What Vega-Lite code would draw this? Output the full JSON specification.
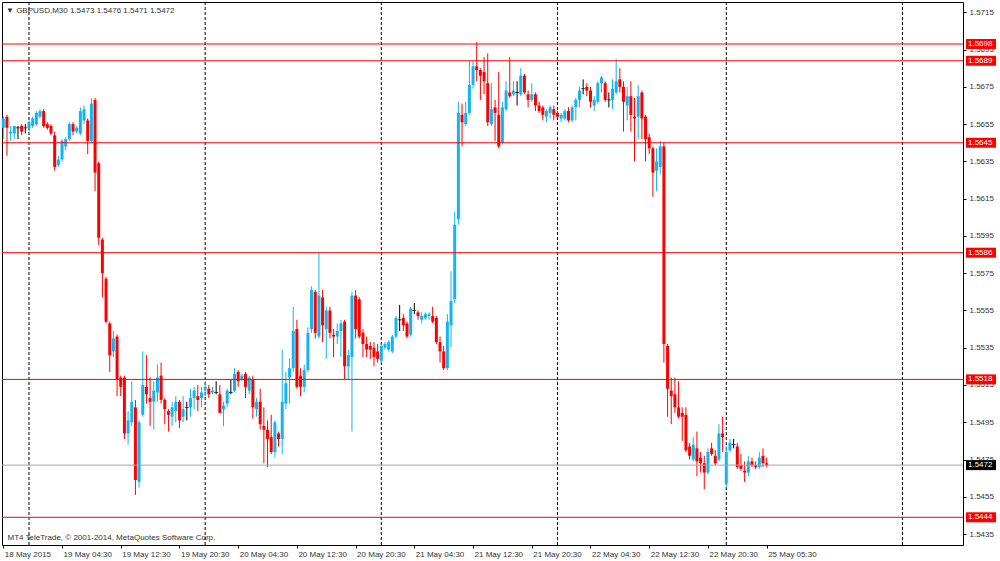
{
  "$schema": "https://vega.github.io/schema/vega-lite/v6.json",
  "width": 961,
  "height": 543,
  "autosize": {"type": "none"},
  "padding": {"left": 2, "top": 2, "right": 37, "bottom": 16},
  "background": "#ffffff",
  "config": {
    "view": {"stroke": "#000000", "strokeWidth": 1},
    "font": "Liberation Sans",
    "axis": {"labelOverlap": false, "labelBound": false}
  },
  "title": {
    "text": "▼ GBPUSD,M30  1.5473 1.5476 1.5471 1.5472",
    "anchor": "start",
    "frame": "group",
    "offset": -13,
    "dx": 4,
    "fontSize": 8,
    "fontWeight": "normal",
    "font": "Liberation Sans",
    "color": "#333333"
  },
  "datasets": {
    "seps": [{"i": 7}, {"i": 55}, {"i": 103}, {"i": 151}, {"i": 197}, {"i": 245}],
    "levels": [
      {"p": 1.5698, "k": "level"},
      {"p": 1.5689, "k": "level"},
      {"p": 1.5645, "k": "level"},
      {"p": 1.5586, "k": "level"},
      {"p": 1.5518, "k": "level"},
      {"p": 1.5444, "k": "level"},
      {"p": 1.5472, "k": "bid"}
    ],
    "bars": [
      {"i":0,"o":1.5653,"h":1.5659,"l":1.5647,"c":1.5658},
      {"i":1,"o":1.5659,"h":1.5660,"l":1.5638,"c":1.5653},
      {"i":2,"o":1.5650,"h":1.5654,"l":1.5646,"c":1.5651},
      {"i":3,"o":1.5650,"h":1.5654,"l":1.5647,"c":1.5654},
      {"i":4,"o":1.5653,"h":1.5654,"l":1.5647,"c":1.5653},
      {"i":5,"o":1.5654,"h":1.5655,"l":1.5649,"c":1.5651},
      {"i":6,"o":1.5653,"h":1.5655,"l":1.5650,"c":1.5653},
      {"i":7,"o":1.5653,"h":1.5657,"l":1.5651,"c":1.5656},
      {"i":8,"o":1.5654,"h":1.5659,"l":1.5653,"c":1.5658},
      {"i":9,"o":1.5655,"h":1.5662,"l":1.5654,"c":1.5661},
      {"i":10,"o":1.5659,"h":1.5663,"l":1.5658,"c":1.5662},
      {"i":11,"o":1.5662,"h":1.5663,"l":1.5653,"c":1.5654},
      {"i":12,"o":1.5655,"h":1.5656,"l":1.5652,"c":1.5653},
      {"i":13,"o":1.5654,"h":1.5655,"l":1.5649,"c":1.5650},
      {"i":14,"o":1.5649,"h":1.5651,"l":1.5630,"c":1.5632},
      {"i":15,"o":1.5633,"h":1.5638,"l":1.5632,"c":1.5636},
      {"i":16,"o":1.5636,"h":1.5647,"l":1.5635,"c":1.5646},
      {"i":17,"o":1.5643,"h":1.5648,"l":1.5641,"c":1.5647},
      {"i":18,"o":1.5647,"h":1.5656,"l":1.5646,"c":1.5655},
      {"i":19,"o":1.5655,"h":1.5656,"l":1.5649,"c":1.5651},
      {"i":20,"o":1.5651,"h":1.5654,"l":1.5650,"c":1.5653},
      {"i":21,"o":1.5650,"h":1.5664,"l":1.5649,"c":1.5662},
      {"i":22,"o":1.5657,"h":1.5665,"l":1.5655,"c":1.5663},
      {"i":23,"o":1.5657,"h":1.5658,"l":1.5639,"c":1.5646},
      {"i":24,"o":1.5646,"h":1.5669,"l":1.5645,"c":1.5666},
      {"i":25,"o":1.5668,"h":1.5669,"l":1.5619,"c":1.5629},
      {"i":26,"o":1.5634,"h":1.5635,"l":1.5590,"c":1.5594},
      {"i":27,"o":1.5593,"h":1.5594,"l":1.5562,"c":1.5575},
      {"i":28,"o":1.5572,"h":1.5573,"l":1.5548,"c":1.5549},
      {"i":29,"o":1.5548,"h":1.5549,"l":1.5522,"c":1.5531},
      {"i":30,"o":1.5533,"h":1.5544,"l":1.5530,"c":1.5540},
      {"i":31,"o":1.5541,"h":1.5542,"l":1.5509,"c":1.5518},
      {"i":32,"o":1.5519,"h":1.5520,"l":1.5509,"c":1.5514},
      {"i":33,"o":1.5519,"h":1.5520,"l":1.5486,"c":1.5489},
      {"i":34,"o":1.5489,"h":1.5501,"l":1.5483,"c":1.5496},
      {"i":35,"o":1.5495,"h":1.5517,"l":1.5493,"c":1.5506},
      {"i":36,"o":1.5503,"h":1.5507,"l":1.5456,"c":1.5464},
      {"i":37,"o":1.5463,"h":1.5496,"l":1.5460,"c":1.5495},
      {"i":38,"o":1.5499,"h":1.5533,"l":1.5498,"c":1.5515},
      {"i":39,"o":1.5514,"h":1.5531,"l":1.5505,"c":1.5510},
      {"i":40,"o":1.5508,"h":1.5519,"l":1.5493,"c":1.5506},
      {"i":41,"o":1.5506,"h":1.5517,"l":1.5491,"c":1.5512},
      {"i":42,"o":1.5511,"h":1.5526,"l":1.5506,"c":1.5519},
      {"i":43,"o":1.5520,"h":1.5527,"l":1.5505,"c":1.5507},
      {"i":44,"o":1.5507,"h":1.5508,"l":1.5494,"c":1.5502},
      {"i":45,"o":1.5501,"h":1.5502,"l":1.5490,"c":1.5499},
      {"i":46,"o":1.5498,"h":1.5506,"l":1.5493,"c":1.5503},
      {"i":47,"o":1.5501,"h":1.5509,"l":1.5495,"c":1.5506},
      {"i":48,"o":1.5506,"h":1.5507,"l":1.5492,"c":1.5496},
      {"i":49,"o":1.5498,"h":1.5509,"l":1.5495,"c":1.5502},
      {"i":50,"o":1.5503,"h":1.5506,"l":1.5496,"c":1.5503},
      {"i":51,"o":1.5503,"h":1.5513,"l":1.5498,"c":1.5508},
      {"i":52,"o":1.5508,"h":1.5514,"l":1.5502,"c":1.5512},
      {"i":53,"o":1.5509,"h":1.5515,"l":1.5501,"c":1.5507},
      {"i":54,"o":1.5508,"h":1.5514,"l":1.5503,"c":1.5511},
      {"i":55,"o":1.5512,"h":1.5517,"l":1.5509,"c":1.5514},
      {"i":56,"o":1.5513,"h":1.5515,"l":1.5508,"c":1.5510},
      {"i":57,"o":1.5511,"h":1.5514,"l":1.5510,"c":1.5512},
      {"i":58,"o":1.5511,"h":1.5517,"l":1.5510,"c":1.5511},
      {"i":59,"o":1.5510,"h":1.5515,"l":1.5500,"c":1.5500},
      {"i":60,"o":1.5502,"h":1.5506,"l":1.5493,"c":1.5504},
      {"i":61,"o":1.5505,"h":1.5513,"l":1.5503,"c":1.5512},
      {"i":62,"o":1.5511,"h":1.5518,"l":1.5510,"c":1.5511},
      {"i":63,"o":1.5512,"h":1.5524,"l":1.5511,"c":1.5521},
      {"i":64,"o":1.5522,"h":1.5523,"l":1.5514,"c":1.5517},
      {"i":65,"o":1.5518,"h":1.5521,"l":1.5517,"c":1.5520},
      {"i":66,"o":1.5521,"h":1.5522,"l":1.5508,"c":1.5514},
      {"i":67,"o":1.5512,"h":1.5520,"l":1.5510,"c":1.5519},
      {"i":68,"o":1.5518,"h":1.5520,"l":1.5497,"c":1.5503},
      {"i":69,"o":1.5502,"h":1.5508,"l":1.5498,"c":1.5506},
      {"i":70,"o":1.5506,"h":1.5513,"l":1.5491,"c":1.5494},
      {"i":71,"o":1.5493,"h":1.5503,"l":1.5473,"c":1.5491},
      {"i":72,"o":1.5491,"h":1.5496,"l":1.5471,"c":1.5486},
      {"i":73,"o":1.5487,"h":1.5499,"l":1.5478,"c":1.5479},
      {"i":74,"o":1.5479,"h":1.5496,"l":1.5476,"c":1.5495},
      {"i":75,"o":1.5489,"h":1.5490,"l":1.5482,"c":1.5486},
      {"i":76,"o":1.5486,"h":1.5534,"l":1.5478,"c":1.5506},
      {"i":77,"o":1.5505,"h":1.5522,"l":1.5502,"c":1.5516},
      {"i":78,"o":1.5519,"h":1.5529,"l":1.5505,"c":1.5524},
      {"i":79,"o":1.5524,"h":1.5557,"l":1.5522,"c":1.5544},
      {"i":80,"o":1.5545,"h":1.5550,"l":1.5513,"c":1.5514},
      {"i":81,"o":1.5520,"h":1.5524,"l":1.5509,"c":1.5514},
      {"i":82,"o":1.5514,"h":1.5526,"l":1.5511,"c":1.5523},
      {"i":83,"o":1.5523,"h":1.5546,"l":1.5522,"c":1.5543},
      {"i":84,"o":1.5545,"h":1.5568,"l":1.5543,"c":1.5566},
      {"i":85,"o":1.5565,"h":1.5566,"l":1.5540,"c":1.5543},
      {"i":86,"o":1.5541,"h":1.5586,"l":1.5540,"c":1.5563},
      {"i":87,"o":1.5562,"h":1.5566,"l":1.5538,"c":1.5547},
      {"i":88,"o":1.5545,"h":1.5557,"l":1.5529,"c":1.5555},
      {"i":89,"o":1.5555,"h":1.5557,"l":1.5540,"c":1.5543},
      {"i":90,"o":1.5542,"h":1.5545,"l":1.5530,"c":1.5541},
      {"i":91,"o":1.5541,"h":1.5548,"l":1.5537,"c":1.5544},
      {"i":92,"o":1.5544,"h":1.5550,"l":1.5530,"c":1.5548},
      {"i":93,"o":1.5549,"h":1.5550,"l":1.5518,"c":1.5525},
      {"i":94,"o":1.5525,"h":1.5534,"l":1.5518,"c":1.5531},
      {"i":95,"o":1.5530,"h":1.5565,"l":1.5490,"c":1.5563},
      {"i":96,"o":1.5563,"h":1.5566,"l":1.5540,"c":1.5545},
      {"i":97,"o":1.5561,"h":1.5562,"l":1.5540,"c":1.5541},
      {"i":98,"o":1.5543,"h":1.5545,"l":1.5530,"c":1.5537},
      {"i":99,"o":1.5537,"h":1.5541,"l":1.5530,"c":1.5534},
      {"i":100,"o":1.5536,"h":1.5538,"l":1.5529,"c":1.5534},
      {"i":101,"o":1.5535,"h":1.5538,"l":1.5525,"c":1.5530},
      {"i":102,"o":1.5533,"h":1.5537,"l":1.5527,"c":1.5529},
      {"i":103,"o":1.5528,"h":1.5537,"l":1.5527,"c":1.5536},
      {"i":104,"o":1.5535,"h":1.5538,"l":1.5534,"c":1.5537},
      {"i":105,"o":1.5534,"h":1.5539,"l":1.5533,"c":1.5538},
      {"i":106,"o":1.5533,"h":1.5542,"l":1.5532,"c":1.5541},
      {"i":107,"o":1.5541,"h":1.5552,"l":1.5540,"c":1.5551},
      {"i":108,"o":1.5550,"h":1.5558,"l":1.5544,"c":1.5550},
      {"i":109,"o":1.5551,"h":1.5553,"l":1.5544,"c":1.5547},
      {"i":110,"o":1.5548,"h":1.5549,"l":1.5540,"c":1.5541},
      {"i":111,"o":1.5542,"h":1.5557,"l":1.5541,"c":1.5556},
      {"i":112,"o":1.5555,"h":1.5559,"l":1.5553,"c":1.5555},
      {"i":113,"o":1.5554,"h":1.5555,"l":1.5550,"c":1.5552},
      {"i":114,"o":1.5550,"h":1.5554,"l":1.5548,"c":1.5552},
      {"i":115,"o":1.5551,"h":1.5554,"l":1.5550,"c":1.5553},
      {"i":116,"o":1.5552,"h":1.5554,"l":1.5550,"c":1.5553},
      {"i":117,"o":1.5552,"h":1.5557,"l":1.5548,"c":1.5549},
      {"i":118,"o":1.5551,"h":1.5552,"l":1.5537,"c":1.5538},
      {"i":119,"o":1.5538,"h":1.5541,"l":1.5527,"c":1.5533},
      {"i":120,"o":1.5533,"h":1.5536,"l":1.5523,"c":1.5524},
      {"i":121,"o":1.5524,"h":1.5553,"l":1.5523,"c":1.5549},
      {"i":122,"o":1.5547,"h":1.5576,"l":1.5535,"c":1.5560},
      {"i":123,"o":1.5561,"h":1.5608,"l":1.5559,"c":1.5601},
      {"i":124,"o":1.5604,"h":1.5667,"l":1.5601,"c":1.5661},
      {"i":125,"o":1.5660,"h":1.5666,"l":1.5643,"c":1.5656},
      {"i":126,"o":1.5655,"h":1.5667,"l":1.5654,"c":1.5661},
      {"i":127,"o":1.5661,"h":1.5689,"l":1.5660,"c":1.5676},
      {"i":128,"o":1.5676,"h":1.5689,"l":1.5674,"c":1.5686},
      {"i":129,"o":1.5686,"h":1.5699,"l":1.5678,"c":1.5684},
      {"i":130,"o":1.5684,"h":1.5685,"l":1.5668,"c":1.5681},
      {"i":131,"o":1.5683,"h":1.5691,"l":1.5671,"c":1.5678},
      {"i":132,"o":1.5677,"h":1.5693,"l":1.5654,"c":1.5656},
      {"i":133,"o":1.5655,"h":1.5677,"l":1.5654,"c":1.5663},
      {"i":134,"o":1.5664,"h":1.5668,"l":1.5646,"c":1.5661},
      {"i":135,"o":1.5660,"h":1.5683,"l":1.5642,"c":1.5643},
      {"i":136,"o":1.5645,"h":1.5667,"l":1.5644,"c":1.5664},
      {"i":137,"o":1.5663,"h":1.5678,"l":1.5662,"c":1.5673},
      {"i":138,"o":1.5672,"h":1.5691,"l":1.5669,"c":1.5670},
      {"i":139,"o":1.5671,"h":1.5678,"l":1.5670,"c":1.5673},
      {"i":140,"o":1.5672,"h":1.5678,"l":1.5665,"c":1.5672},
      {"i":141,"o":1.5671,"h":1.5685,"l":1.5670,"c":1.5681},
      {"i":142,"o":1.5681,"h":1.5682,"l":1.5671,"c":1.5672},
      {"i":143,"o":1.5671,"h":1.5673,"l":1.5664,"c":1.5668},
      {"i":144,"o":1.5668,"h":1.5677,"l":1.5667,"c":1.5671},
      {"i":145,"o":1.5671,"h":1.5672,"l":1.5662,"c":1.5665},
      {"i":146,"o":1.5665,"h":1.5667,"l":1.5661,"c":1.5662},
      {"i":147,"o":1.5664,"h":1.5665,"l":1.5657,"c":1.5660},
      {"i":148,"o":1.5659,"h":1.5663,"l":1.5656,"c":1.5662},
      {"i":149,"o":1.5661,"h":1.5665,"l":1.5658,"c":1.5664},
      {"i":150,"o":1.5663,"h":1.5665,"l":1.5657,"c":1.5660},
      {"i":151,"o":1.5661,"h":1.5662,"l":1.5658,"c":1.5659},
      {"i":152,"o":1.5658,"h":1.5661,"l":1.5656,"c":1.5660},
      {"i":153,"o":1.5658,"h":1.5663,"l":1.5657,"c":1.5662},
      {"i":154,"o":1.5662,"h":1.5664,"l":1.5656,"c":1.5657},
      {"i":155,"o":1.5657,"h":1.5665,"l":1.5656,"c":1.5664},
      {"i":156,"o":1.5664,"h":1.5669,"l":1.5657,"c":1.5668},
      {"i":157,"o":1.5668,"h":1.5675,"l":1.5664,"c":1.5673},
      {"i":158,"o":1.5674,"h":1.5679,"l":1.5671,"c":1.5674},
      {"i":159,"o":1.5675,"h":1.5677,"l":1.5670,"c":1.5673},
      {"i":160,"o":1.5673,"h":1.5675,"l":1.5664,"c":1.5667},
      {"i":161,"o":1.5665,"h":1.5670,"l":1.5662,"c":1.5668},
      {"i":162,"o":1.5667,"h":1.5678,"l":1.5666,"c":1.5677},
      {"i":163,"o":1.5677,"h":1.5681,"l":1.5672,"c":1.5680},
      {"i":164,"o":1.5677,"h":1.5678,"l":1.5667,"c":1.5668},
      {"i":165,"o":1.5668,"h":1.5672,"l":1.5664,"c":1.5668},
      {"i":166,"o":1.5668,"h":1.5679,"l":1.5663,"c":1.5674},
      {"i":167,"o":1.5672,"h":1.5690,"l":1.5671,"c":1.5678},
      {"i":168,"o":1.5679,"h":1.5685,"l":1.5672,"c":1.5675},
      {"i":169,"o":1.5675,"h":1.5678,"l":1.5651,"c":1.5667},
      {"i":170,"o":1.5665,"h":1.5675,"l":1.5657,"c":1.5670},
      {"i":171,"o":1.5670,"h":1.5678,"l":1.5651,"c":1.5660},
      {"i":172,"o":1.5659,"h":1.5669,"l":1.5635,"c":1.5658},
      {"i":173,"o":1.5659,"h":1.5676,"l":1.5647,"c":1.5670},
      {"i":174,"o":1.5672,"h":1.5673,"l":1.5647,"c":1.5658},
      {"i":175,"o":1.5659,"h":1.5660,"l":1.5635,"c":1.5647},
      {"i":176,"o":1.5648,"h":1.5650,"l":1.5639,"c":1.5642},
      {"i":177,"o":1.5642,"h":1.5643,"l":1.5616,"c":1.5629},
      {"i":178,"o":1.5630,"h":1.5642,"l":1.5619,"c":1.5635},
      {"i":179,"o":1.5632,"h":1.5646,"l":1.5628,"c":1.5643},
      {"i":180,"o":1.5643,"h":1.5645,"l":1.5527,"c":1.5537},
      {"i":181,"o":1.5536,"h":1.5537,"l":1.5498,"c":1.5513},
      {"i":182,"o":1.5512,"h":1.5519,"l":1.5494,"c":1.5509},
      {"i":183,"o":1.5510,"h":1.5519,"l":1.5500,"c":1.5503},
      {"i":184,"o":1.5503,"h":1.5517,"l":1.5497,"c":1.5498},
      {"i":185,"o":1.5500,"h":1.5503,"l":1.5485,"c":1.5498},
      {"i":186,"o":1.5499,"h":1.5503,"l":1.5479,"c":1.5480},
      {"i":187,"o":1.5482,"h":1.5484,"l":1.5475,"c":1.5477},
      {"i":188,"o":1.5475,"h":1.5487,"l":1.5474,"c":1.5483},
      {"i":189,"o":1.5481,"h":1.5490,"l":1.5466,"c":1.5474},
      {"i":190,"o":1.5476,"h":1.5479,"l":1.5468,"c":1.5473},
      {"i":191,"o":1.5473,"h":1.5477,"l":1.5459,"c":1.5468},
      {"i":192,"o":1.5468,"h":1.5481,"l":1.5467,"c":1.5479},
      {"i":193,"o":1.5481,"h":1.5484,"l":1.5477,"c":1.5478},
      {"i":194,"o":1.5477,"h":1.5480,"l":1.5472,"c":1.5473},
      {"i":195,"o":1.5475,"h":1.5494,"l":1.5474,"c":1.5489},
      {"i":196,"o":1.5489,"h":1.5498,"l":1.5479,"c":1.5487},
      {"i":197,"o":1.5462,"h":1.5482,"l":1.5460,"c":1.5479},
      {"i":198,"o":1.5480,"h":1.5486,"l":1.5479,"c":1.5484},
      {"i":199,"o":1.5483,"h":1.5486,"l":1.5481,"c":1.5483},
      {"i":200,"o":1.5482,"h":1.5484,"l":1.5470,"c":1.5471},
      {"i":201,"o":1.5472,"h":1.5478,"l":1.5469,"c":1.5470},
      {"i":202,"o":1.5469,"h":1.5474,"l":1.5463,"c":1.5468},
      {"i":203,"o":1.5468,"h":1.5477,"l":1.5466,"c":1.5474},
      {"i":204,"o":1.5474,"h":1.5476,"l":1.5471,"c":1.5472},
      {"i":205,"o":1.5472,"h":1.5474,"l":1.5470,"c":1.5471},
      {"i":206,"o":1.5471,"h":1.5479,"l":1.5470,"c":1.5476},
      {"i":207,"o":1.5477,"h":1.5481,"l":1.5471,"c":1.5473},
      {"i":208,"o":1.5473,"h":1.5476,"l":1.5471,"c":1.5472}
    ]
  },
  "layer": [
    {
      "data": {"name": "seps"},
      "mark": {"type": "rule", "color": "#000000", "strokeWidth": 1, "strokeDash": [3, 2]},
      "encoding": {
        "x": {"field": "i", "type": "quantitative", "scale": {"domain": [-0.354, 261.5], "nice": false, "zero": false, "padding": 0}}
      }
    },
    {
      "data": {"name": "bars"},
      "mark": {"type": "rule", "strokeWidth": 1},
      "encoding": {
        "x": {
          "field": "i",
          "type": "quantitative",
          "scale": {"domain": [-0.354, 261.5], "nice": false, "zero": false, "padding": 0},
          "axis": {
            "values": [0, 16, 32, 48, 64, 80, 96, 112, 128, 144, 160, 176, 192, 208],
            "tickCount": 40,
            "labelExpr": "['18 May 2015','19 May 04:30','19 May 12:30','19 May 20:30','20 May 04:30','20 May 12:30','20 May 20:30','21 May 04:30','21 May 12:30','21 May 20:30','22 May 04:30','22 May 12:30','22 May 20:30','25 May 05:30'][round(datum.value / 16)]",
            "labelAlign": "left",
            "labelOffset": 1,
            "labelFontSize": 8,
            "labelFont": "Liberation Sans",
            "labelColor": "#333333",
            "labelPadding": 2,
            "labelFlush": false,
            "labelOverlap": false,
            "tickSize": 3,
            "tickColor": "#000000",
            "domain": false,
            "grid": false,
            "title": "MT4 TeleTrade, © 2001-2014, MetaQuotes Software Corp.",
            "titleAnchor": "start",
            "titleAlign": "left",
            "titleX": 5,
            "titleY": -8,
            "titleBaseline": "middle",
            "titleFontSize": 8,
            "titleFont": "Liberation Sans",
            "titleFontWeight": "normal",
            "titleColor": "#333333"
          }
        },
        "y": {
          "field": "l",
          "type": "quantitative",
          "scale": {"domain": [1.542913, 1.572054], "nice": false, "zero": false, "padding": 0},
          "axis": {
            "orient": "right",
            "values": [1.5435, 1.5455, 1.5475, 1.5495, 1.5515, 1.5535, 1.5555, 1.5575, 1.5595, 1.5615, 1.5635, 1.5655, 1.5675, 1.5695, 1.5715],
            "tickCount": 40,
            "format": ".4f",
            "title": null,
            "grid": false,
            "domain": false,
            "tickSize": 3,
            "tickColor": "#000000",
            "labelFontSize": 8,
            "labelFont": "Liberation Sans",
            "labelColor": "#333333",
            "labelPadding": 3,
            "labelBaseline": "middle",
            "labelOverlap": false,
            "labelBound": false
          }
        },
        "y2": {"field": "h"},
        "color": {
          "condition": [
            {"test": "datum.c > datum.o", "value": "#12b4f4"},
            {"test": "datum.c < datum.o", "value": "#ff0000"}
          ],
          "value": "#000000"
        }
      }
    },
    {
      "data": {"name": "bars"},
      "mark": {"type": "bar", "size": 3},
      "encoding": {
        "x": {"field": "i", "type": "quantitative", "scale": {"domain": [-0.354, 261.5], "nice": false, "zero": false, "padding": 0}},
        "y": {"field": "o", "type": "quantitative", "scale": {"domain": [1.542913, 1.572054], "nice": false, "zero": false, "padding": 0}},
        "y2": {"field": "c"},
        "color": {
          "condition": [
            {"test": "datum.c > datum.o", "value": "#12b4f4"},
            {"test": "datum.c < datum.o", "value": "#ff0000"}
          ],
          "value": "#000000"
        }
      }
    },
    {
      "data": {"name": "bars"},
      "transform": [{"filter": "datum.o == datum.c"}],
      "mark": {"type": "tick", "orient": "horizontal", "size": 4, "thickness": 1, "color": "#000000"},
      "encoding": {
        "x": {"field": "i", "type": "quantitative", "scale": {"domain": [-0.354, 261.5], "nice": false, "zero": false, "padding": 0}},
        "y": {"field": "o", "type": "quantitative", "scale": {"domain": [1.542913, 1.572054], "nice": false, "zero": false, "padding": 0}}
      }
    },
    {
      "data": {"name": "levels"},
      "mark": {"type": "rule", "strokeWidth": 1},
      "encoding": {
        "y": {"field": "p", "type": "quantitative", "scale": {"domain": [1.542913, 1.572054], "nice": false, "zero": false, "padding": 0}},
        "color": {"field": "k", "type": "nominal", "scale": {"domain": ["level", "bid"], "range": ["#ff0000", "#98a4b0"]}, "legend": null}
      }
    },
    {
      "data": {"name": "levels"},
      "mark": {"type": "point", "shape": "M0.6,-1H6.6V1H0.6Z", "filled": true, "size": 100, "opacity": 1, "strokeWidth": 0},
      "encoding": {
        "x": {"value": "width"},
        "y": {"field": "p", "type": "quantitative", "scale": {"domain": [1.542913, 1.572054], "nice": false, "zero": false, "padding": 0}},
        "fill": {"field": "k", "type": "nominal", "scale": {"domain": ["level", "bid"], "range": ["#ff0000", "#000000"]}, "legend": null}
      }
    },
    {
      "data": {"name": "levels"},
      "mark": {"type": "text", "align": "left", "baseline": "middle", "dx": 5, "fontSize": 8, "font": "Liberation Sans", "color": "#ffffff"},
      "encoding": {
        "x": {"value": "width"},
        "y": {"field": "p", "type": "quantitative", "scale": {"domain": [1.542913, 1.572054], "nice": false, "zero": false, "padding": 0}},
        "text": {"field": "p", "type": "quantitative", "format": ".4f"}
      }
    }
  ]
}
